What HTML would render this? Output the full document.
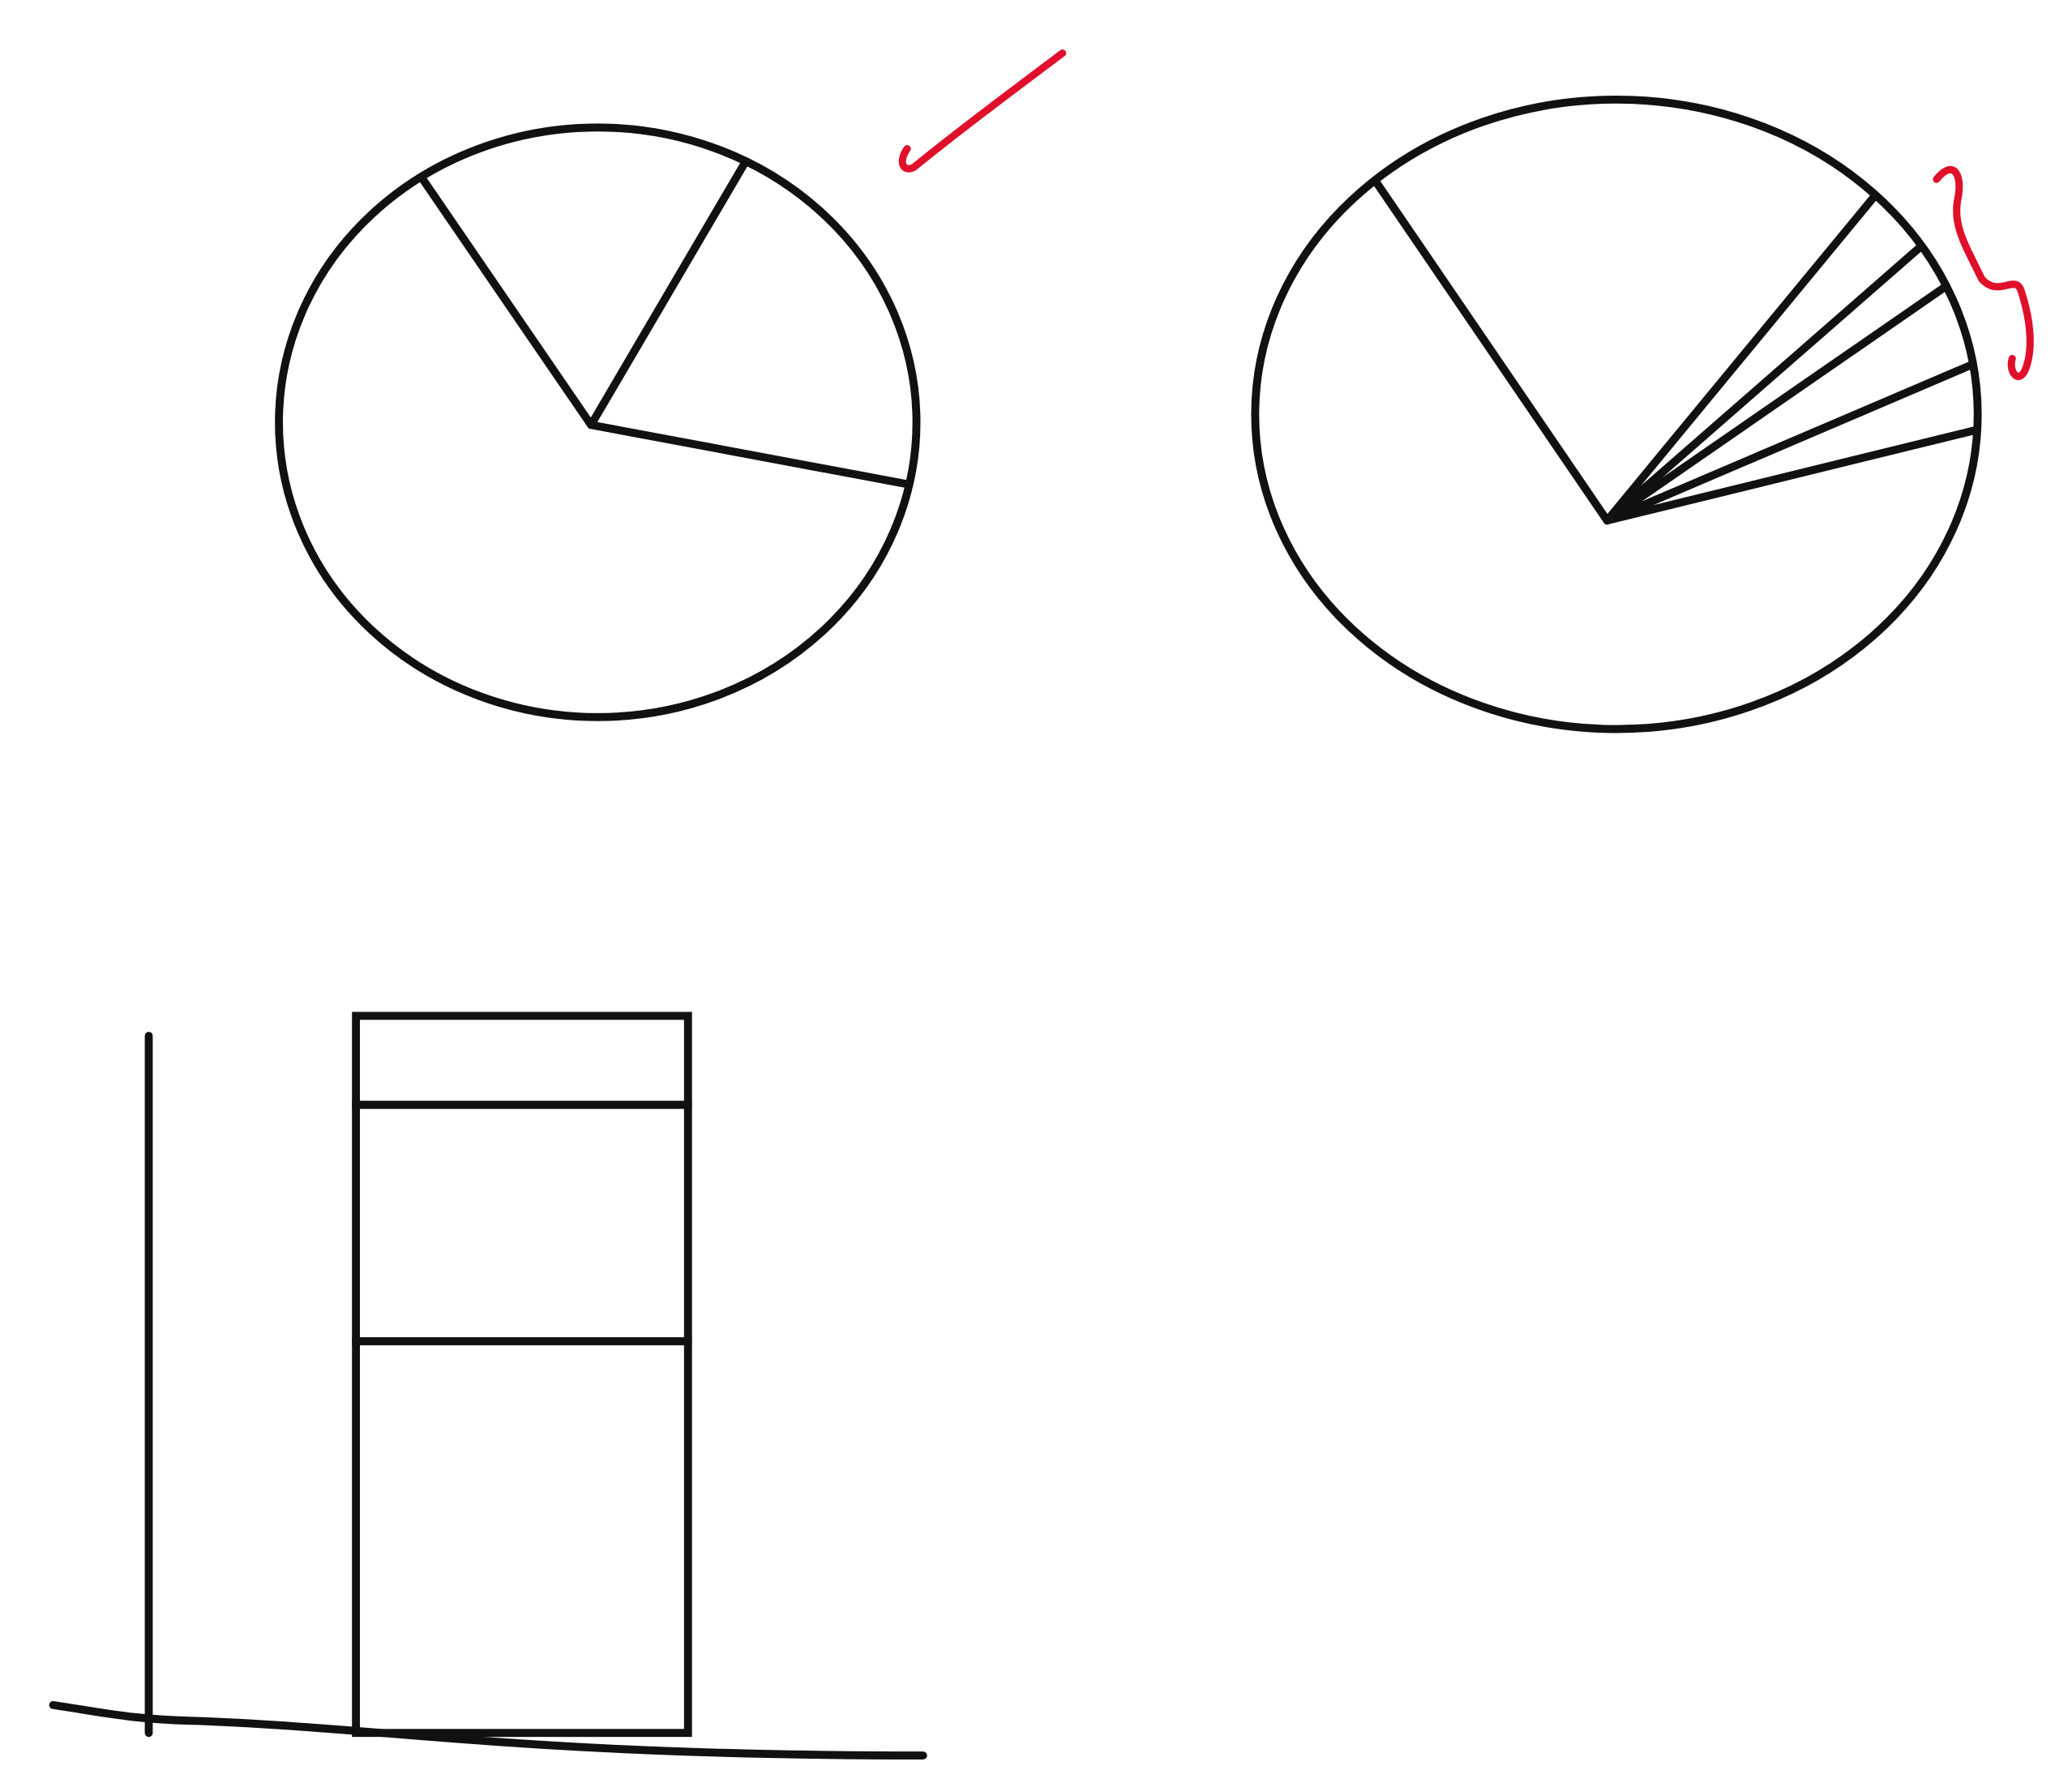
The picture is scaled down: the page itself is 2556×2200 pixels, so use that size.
<!DOCTYPE html>
<html><head><meta charset="utf-8"><style>
html,body{margin:0;padding:0;background:#fff;}
svg{display:block;}
</style></head><body>
<svg id="s" width="2556" height="2200" viewBox="0 0 1560 1342.7" preserveAspectRatio="none" xmlns="http://www.w3.org/2000/svg">
<rect width="1560" height="1343" fill="#ffffff"/>
<path d="M683,112 C676,122 680,130 688,126 C720,100 760,70 800,40" fill="none" stroke="#e0102a" stroke-width="5.5" stroke-linecap="round"/>
<path d="M1458,135 C1470,120 1478,130 1474,150 C1470,170 1480,185 1492,210 C1505,225 1518,205 1522,220 C1530,245 1530,265 1525,278 C1520,290 1512,280 1515,270" fill="none" stroke="#e0102a" stroke-width="5.5" stroke-linecap="round"/>
<g id="g"></g>
</svg>
<script>
// Pie 1 slices (percent of circle), starting angle -124.4deg
const pie1Values = [18, 19.5, 62.5];
// Pie 2 slices (percent of circle), starting angle -124.3deg
const pie2Values = [20.5, 2.6, 1.8, 3.2, 2.6, 69.3];
// Stacked bar segment values (bottom to top)
const barSegments = [59, 35.6, 13.4];

const NS = "http://www.w3.org/2000/svg";
const g = document.getElementById("g");
function mk(tag, attrs){ const e=document.createElementNS(NS,tag); for(const k in attrs) e.setAttribute(k,attrs[k]); g.appendChild(e); return e; }
const ST = {fill:"none",stroke:"#111","stroke-width":6,"stroke-linecap":"round"};

function ray(cx,cy,rx,ry,px,py,ang){
  const dx=Math.cos(ang), dy=Math.sin(ang);
  const ux=(px-cx)/rx, uy=(py-cy)/ry, vx=dx/rx, vy=dy/ry;
  const a=vx*vx+vy*vy, b=2*(ux*vx+uy*vy), c=ux*ux+uy*uy-1;
  const t=(-b+Math.sqrt(b*b-4*a*c))/(2*a);
  return [px+dx*t, py+dy*t];
}
function pie(name, vals, start, cx,cy,rx,ry,px,py){
  const el = mk("ellipse", Object.assign({cx,cy,rx,ry}, ST));
  
  
  let a = start*Math.PI/180;
  vals.forEach((v,i)=>{
    const [x,y]=ray(cx,cy,rx,ry,px,py,a);
    const ln = mk("line", Object.assign({x1:px,y1:py,x2:x,y2:y}, ST));
    
    
    a += v/100*2*Math.PI;
  });
}
pie("pie-left", pie1Values, -124.4, 450,318,240,222, 445,320);
pie("pie-right", pie2Values, -124.3, 1217,312,272,237, 1210,392);

// bar chart
const baseY = 1305, scale = 5, barX = 268, barW = 250;
const yAxis = mk("line", Object.assign({x1:112,y1:780,x2:112,y2:1305}, ST));


const xAxis = mk("path", Object.assign({d:"M40,1284 C80,1290 100,1295 150,1296 C300,1302 400,1322 695,1322"}, ST));


let cum = 0;
barSegments.forEach((v,i)=>{
  const y0 = baseY - cum*scale, y1 = baseY - (cum+v)*scale;
  const r = mk("rect", Object.assign({x:barX,y:y1,width:barW,height:y0-y1}, ST));
  
  
  cum += v;
});
</script>
</body></html>
